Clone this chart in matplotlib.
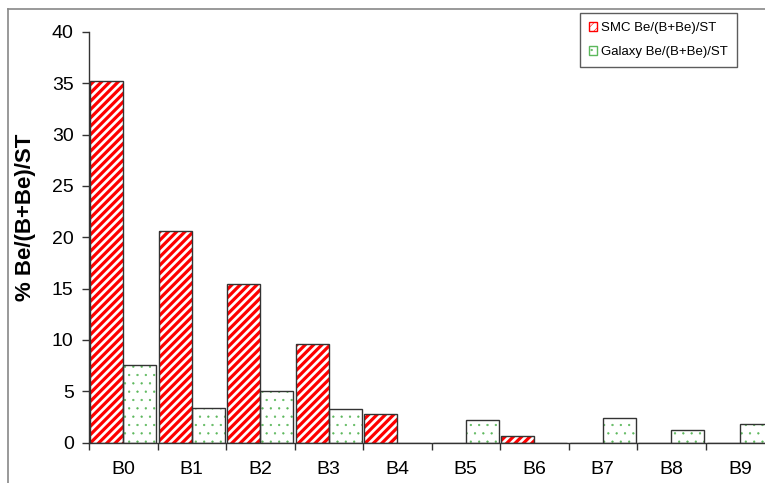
import numpy as np
import matplotlib
matplotlib.use('Agg')
import matplotlib.pyplot as plt
from matplotlib.patches import Patch
from matplotlib.lines import Line2D

#Data
classes = ['B0', 'B1', 'B2', 'B3', 'B4', 'B5', 'B6', 'B7', 'B8', 'B9']
smc = [35.2, 20.6, 15.4, 9.6, 2.8, 0.0, 0.6, 0.0, 0.0, 0.0]
galaxy = [7.6, 3.4, 5.0, 3.3, 0.0, 2.2, 0.0, 2.35, 1.2, 1.85]

plt.rcParams['font.family'] = ['Liberation Sans', 'DejaVu Sans']
plt.rcParams['hatch.linewidth'] = 2.3

fig = plt.figure(figsize=(7.65, 4.83), dpi=100)
ax = fig.add_axes([89/765, 40.5/483, 685/765, 410.5/483])

x = np.arange(len(classes))
w = 0.48
left_smc = x + 0.02
left_gal = x + 0.02 + w

#hatched fill first, then outlines on top
ax.bar(left_smc, smc, width=w, align='edge', facecolor='white', edgecolor='#ff0000',
       hatch='////', linewidth=0, zorder=2)
ax.bar(left_smc, smc, width=w, align='edge', facecolor='none', edgecolor='#333333',
       linewidth=1.0, zorder=3)
plt.rcParams['hatch.linewidth'] = 0.4
ax.bar(left_gal, galaxy, width=w, align='edge', facecolor='white', edgecolor='#5cb85c',
       hatch='..', linewidth=0, zorder=2)
ax.bar(left_gal, galaxy, width=w, align='edge', facecolor='none', edgecolor='#333333',
       linewidth=1.0, zorder=3)

ax.set_xlim(0, 10)
ax.set_ylim(0, 40)
ax.set_yticks(range(0, 41, 5))
ax.set_xticks(x + 0.5)
ax.set_xticklabels(classes)
ax.set_xticks(np.arange(0, 11), minor=True)
ax.tick_params(axis='x', which='major', length=0, pad=13, labelsize=14)
ax.tick_params(axis='x', which='minor', length=5, width=1, color='#333333', direction='out')
ax.tick_params(axis='y', length=5, width=1, color='#333333', pad=6, labelsize=14)
for s in ['top', 'right']:
    ax.spines[s].set_visible(False)
for s in ['left', 'bottom']:
    ax.spines[s].set_color('#333333')
    ax.spines[s].set_linewidth(1.0)
ax.set_ylabel('% Be/(B+Be)/ST', fontsize=16, fontweight='bold')
ax.yaxis.set_label_coords(-0.078, 0.549)

#Legend
handles = [Patch(facecolor='white', edgecolor='#ff0000', hatch='////'),
           Patch(facecolor='white', edgecolor='#5cb85c', hatch='..')]
leg = ax.legend(handles, ['SMC Be/(B+Be)/ST', 'Galaxy Be/(B+Be)/ST'],
                loc='upper left', bbox_to_anchor=(580/765, 1 - 13/483),
                bbox_transform=fig.transFigure, borderaxespad=0, fontsize=9.5,
                frameon=True, fancybox=False, handlelength=0.6, handleheight=0.6,
                handletextpad=0.3, borderpad=0.7, labelspacing=0.9)
leg.get_frame().set_edgecolor('#333333')
leg.get_frame().set_linewidth(1.0)

#outer frame of the chart area
fig.add_artist(Line2D([8/765, 8/765], [0, 1 - 9/483], transform=fig.transFigure,
                      color='#888888', linewidth=1.2))
fig.add_artist(Line2D([8/765, 1], [1 - 9/483, 1 - 9/483], transform=fig.transFigure,
                      color='#888888', linewidth=1.2))

fig.savefig('out.png', dpi=100)
